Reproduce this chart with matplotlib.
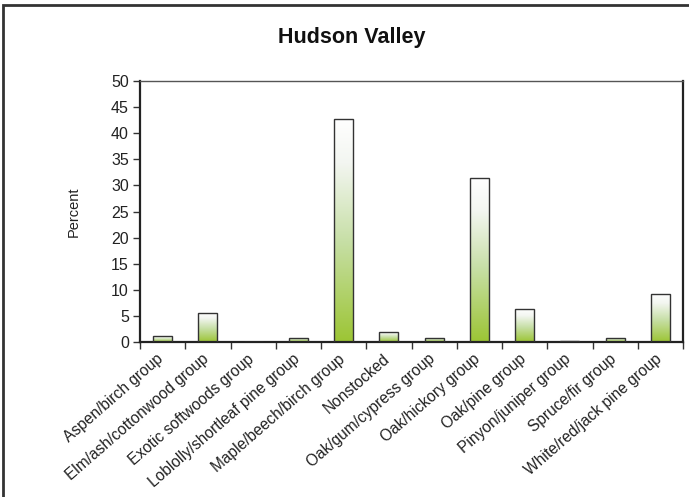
import matplotlib.pyplot as plt
import matplotlib.transforms as mtransforms
import numpy as np
from matplotlib.colors import LinearSegmentedColormap
from matplotlib.patches import Rectangle

categories = ["Aspen/birch group", "Elm/ash/cottonwood group", "Exotic softwoods group",
              "Loblolly/shortleaf pine group", "Maple/beech/birch group", "Nonstocked",
              "Oak/gum/cypress group", "Oak/hickory group", "Oak/pine group",
              "Pinyon/juniper group", "Spruce/fir group", "White/red/jack pine group"]
percent = [1.1, 5.6, 0.0, 0.8, 42.8, 2.0, 0.8, 31.4, 6.3, 0.15, 0.8, 9.2]
yticks = list(range(0, 55, 5))

plt.rcParams['font.family'] = ['Liberation Sans', 'DejaVu Sans']

fig = plt.figure(figsize=(6.89, 4.97), dpi=100)
ax = fig.add_axes([140 / 689, 1 - 342 / 497, 543 / 689, 261 / 497])

# gradient green (bottom) -> white (top)
cmap = LinearSegmentedColormap.from_list("g", [(0, "#9cc534"), (0.45, "#c7dfa6"), (0.8, "#f3f6f1"), (1, "#ffffff")])
grad = np.linspace(0, 1, 256).reshape(-1, 1)

x = np.arange(len(categories))
bars = ax.bar(x, percent, width=0.42, facecolor="none", edgecolor="#333333", linewidth=1.0, zorder=3)
for b in bars:
    h = b.get_height()
    if h <= 0:
        continue
    x0 = b.get_x()
    w = b.get_width()
    im = ax.imshow(grad, cmap=cmap, origin="lower", aspect="auto",
                   extent=(x0, x0 + w, 0, h), zorder=2)
    im.set_clip_path(b)

ax.set_xlim(-0.5, len(categories) - 0.5)
ax.set_ylim(0, 50)
ax.set_yticks(yticks)
ax.set_xticks(x)
ax.set_xticklabels(categories, rotation=41, ha="right", rotation_mode="anchor", fontsize=11.2, color="#222222")
ax.tick_params(axis="x", length=0, pad=6)
# nudge labels a little left, like the reference
shift = mtransforms.ScaledTranslation(-6 / 100, -1 / 100, fig.dpi_scale_trans)
for lab in ax.get_xticklabels():
    lab.set_transform(lab.get_transform() + shift)
ax.set_xticks(np.arange(-0.5, len(categories)), minor=True)
ax.tick_params(axis="x", which="minor", length=5, width=1, color="#333333", direction="out")
ax.tick_params(axis="y", length=5, width=1, color="#333333", labelsize=11.5, labelcolor="#222222", pad=3)

for s in ["left", "bottom", "right"]:
    ax.spines[s].set_linewidth(1.6)
    ax.spines[s].set_color("#222222")
ax.spines["top"].set_linewidth(1.0)
ax.spines["top"].set_color("#555555")

ax.set_ylabel("Percent", fontsize=10.5, color="#222222", labelpad=22)
fig.text(352 / 689, 1 - 37 / 497, "Hudson Valley", ha="center", va="center", fontsize=15.5, fontweight="bold", color="#111111")

# outer border (cropped at right and bottom)
fig.patches.append(Rectangle((3 / 689, -0.1), 1.2, 1 - 5 / 497 + 0.1, transform=fig.transFigure,
                             fill=False, edgecolor="#333333", linewidth=2, clip_on=False))

fig.savefig("out.png", dpi=100)
